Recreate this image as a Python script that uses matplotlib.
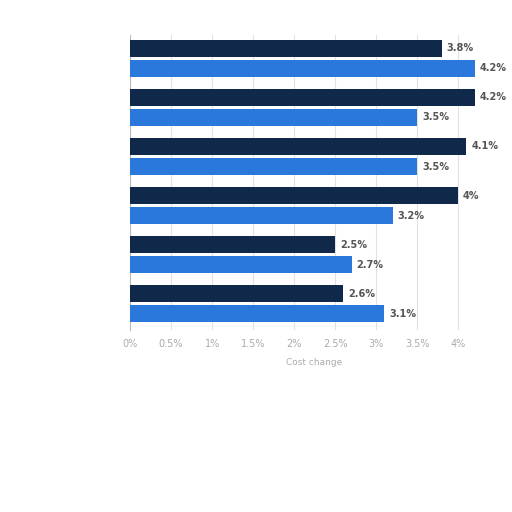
import matplotlib
matplotlib.use('Agg')
import matplotlib.pyplot as plt

dark_vals = [3.8, 4.2, 4.1, 4.0, 2.5, 2.6]
blue_vals = [4.2, 3.5, 3.5, 3.2, 2.7, 3.1]
ticks = [0, 0.5, 1, 1.5, 2, 2.5, 3, 3.5, 4]
tick_labels = ['0%', '0.5%', '1%', '1.5%', '2%', '2.5%', '3%', '3.5%', '4%']

def fmt(v):
    s = ('%.1f' % v).rstrip('0').rstrip('.')
    return s + '%'

def main():
    fig = plt.figure(figsize=(5.12, 5.12), dpi=100)
    ax = fig.add_axes([0.254, 0.355, 0.721, 0.577])

    n = len(dark_vals)
    ypos_dark = [i for i in range(n)]
    ypos_blue = [i + 0.408 for i in range(n)]

    ax.barh(ypos_dark, dark_vals, height=0.347, color='#10284a', zorder=3)
    ax.barh(ypos_blue, blue_vals, height=0.347, color='#2b78dc', zorder=3)

    for y, v in zip(ypos_dark, dark_vals):
        ax.text(v + 0.06, y, fmt(v), va='center', ha='left', fontsize=7,
                color='#555555', fontweight='bold')
    for y, v in zip(ypos_blue, blue_vals):
        ax.text(v + 0.06, y, fmt(v), va='center', ha='left', fontsize=7,
                color='#555555', fontweight='bold')

    ax.set_xlim(0, 4.5)
    ax.set_ylim(5.745, -0.276)
    ax.set_xticks(ticks)
    ax.set_xticklabels(tick_labels, fontsize=7, color='#aaaaaa')
    ax.set_yticks([])
    ax.tick_params(axis='x', length=0, pad=6)
    ax.grid(axis='x', color='#e2e2e2', linewidth=0.8, zorder=0)
    for s in ['top', 'right', 'bottom']:
        ax.spines[s].set_visible(False)
    ax.spines['left'].set_color('#bbbbbb')
    ax.set_xlabel('Cost change', fontsize=6.5, color='#aaaaaa', labelpad=7)

    fig.savefig('out.png', dpi=100)

if __name__ == '__main__': main()
